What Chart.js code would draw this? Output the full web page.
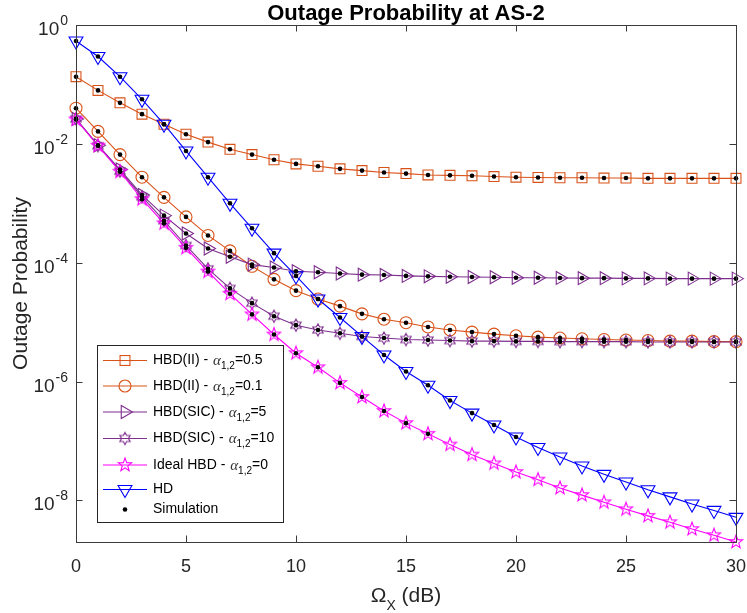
<!DOCTYPE html>
<html>
<head>
<meta charset="utf-8">
<title>Outage Probability at AS-2</title>
<script src="https://cdn.jsdelivr.net/npm/chart.js@4.4.1/dist/chart.umd.min.js"></script>
<style>
  html, body { margin: 0; padding: 0; background: #fff; }
  #wrap { width: 747px; height: 613px; position: relative; }
</style>
</head>
<body>
<div id="wrap"><canvas id="myChart"></canvas></div>
<script>
// x axis: Omega_X in dB
const snr = [0, 1, 2, 3, 4, 5, 6, 7, 8, 9, 10, 11, 12, 13, 14, 15, 16, 17, 18, 19, 20,
             21, 22, 23, 24, 25, 26, 27, 28, 29, 30];

// outage probability curves
const hbdII05 = [0.135, 0.0794, 0.049, 0.0316, 0.0214, 0.0145, 0.0107, 8.1e-3, 6.6e-3, 5.4e-3,
                 4.6e-3, 4.2e-3, 3.8e-3, 3.55e-3, 3.3e-3, 3.16e-3, 3.0e-3, 2.95e-3, 2.9e-3, 2.82e-3,
                 2.75e-3, 2.72e-3, 2.69e-3, 2.69e-3, 2.66e-3, 2.66e-3, 2.63e-3, 2.63e-3, 2.63e-3, 2.63e-3, 2.63e-3];
const hbdII01 = [0.0398, 0.0162, 6.6e-3, 2.75e-3, 1.26e-3, 5.9e-4, 2.88e-4, 1.58e-4, 8.7e-5, 5.25e-5,
                 3.39e-5, 2.45e-5, 1.86e-5, 1.38e-5, 1.12e-5, 9.8e-6, 8.3e-6, 7.4e-6, 6.8e-6, 6.3e-6,
                 5.9e-6, 5.6e-6, 5.4e-6, 5.25e-6, 5.1e-6, 5.0e-6, 4.9e-6, 4.8e-6, 4.8e-6, 4.7e-6, 4.7e-6];
const hbdSic5 = [0.0263, 9.5e-3, 3.7e-3, 1.38e-3, 6.2e-4, 3.1e-4, 1.74e-4, 1.26e-4, 9.3e-5, 8.3e-5,
                 7.2e-5, 6.9e-5, 6.6e-5, 6.3e-5, 6.2e-5, 6.0e-5, 5.9e-5, 5.8e-5, 5.75e-5, 5.7e-5,
                 5.6e-5, 5.6e-5, 5.55e-5, 5.5e-5, 5.5e-5, 5.45e-5, 5.45e-5, 5.4e-5, 5.4e-5, 5.4e-5, 5.4e-5];
const hbdSic10 = [0.0263, 9.3e-3, 3.47e-3, 1.29e-3, 5.1e-4, 1.95e-4, 7.9e-5, 3.7e-5, 2.09e-5, 1.26e-5,
                  8.9e-6, 7.4e-6, 6.5e-6, 5.75e-6, 5.4e-6, 5.1e-6, 5.0e-6, 4.9e-6, 4.8e-6, 4.8e-6,
                  4.75e-6, 4.75e-6, 4.7e-6, 4.7e-6, 4.7e-6, 4.7e-6, 4.65e-6, 4.65e-6, 4.65e-6, 4.65e-6, 4.65e-6];
const idealHbd = [0.0257, 9.3e-3, 3.4e-3, 1.17e-3, 4.6e-4, 1.78e-4, 7.1e-5, 3.0e-5, 1.35e-5, 6.2e-6,
                  3.0e-6, 1.74e-6, 9.5e-7, 5.5e-7, 3.2e-7, 2.0e-7, 1.32e-7, 8.7e-8, 5.9e-8, 4.2e-8,
                  3.0e-8, 2.24e-8, 1.62e-8, 1.23e-8, 9.3e-9, 7.1e-9, 5.5e-9, 4.3e-9, 3.3e-9, 2.6e-9, 2.0e-9];
const hd = [0.537, 0.295, 0.135, 0.0562, 0.0214, 7.6e-3, 2.75e-3, 1.0e-3, 3.8e-4, 1.45e-4,
            6.0e-5, 2.45e-5, 1.2e-5, 5.75e-6, 2.8e-6, 1.48e-6, 8.7e-7, 4.8e-7, 2.95e-7, 1.86e-7,
            1.17e-7, 7.8e-8, 5.4e-8, 3.8e-8, 2.75e-8, 2.04e-8, 1.51e-8, 1.15e-8, 8.7e-9, 6.8e-9, 5.2e-9];

// simulation points only go so far for some curves
const simLenHd = 21;     // 0..20 dB
const simLenIdeal = 17;  // 0..16 dB

const xTicks = [0, 5, 10, 15, 20, 25, 30];
const yTickExps = [0, -2, -4, -6, -8];
const yMin = 2e-9, yMax = 1;

const SANS = "'Liberation Sans', Arial, Helvetica, sans-serif";
const AXIS = '#3a3a3a';

// MATLAB style star markers as small canvases
function starMarker(points, rOut, rIn, color) {
  const s = Math.ceil(rOut * 2 + 4);
  const c = document.createElement('canvas');
  c.width = s; c.height = s;
  const g = c.getContext('2d');
  g.strokeStyle = color;
  g.lineWidth = 1.1;
  g.beginPath();
  for (let i = 0; i < points * 2; i++) {
    const r = i % 2 ? rIn : rOut;
    const a = -Math.PI / 2 + i * Math.PI / points;
    g.lineTo(s / 2 + r * Math.cos(a), s / 2 + r * Math.sin(a));
  }
  g.closePath();
  g.stroke();
  return c;
}

const pentaMag = starMarker(5, 7, 2.9, '#ff00ff');
const hexaPur = starMarker(6, 6, 3.4, '#7e2f8e');

function toXY(vals) {
  return vals.map((v, i) => ({ x: snr[i], y: v }));
}

const curves = [
  { label: 'HBD(II) - α_{1,2}=0.5', data: hbdII05, color: '#d95319', style: 'rect', r: 7, rot: 0 },
  { label: 'HBD(II) - α_{1,2}=0.1', data: hbdII01, color: '#d95319', style: 'circle', r: 6, rot: 0 },
  { label: 'HBD(SIC) - α_{1,2}=5', data: hbdSic5, color: '#7e2f8e', style: 'triangle', r: 7.5, rot: 90 },
  { label: 'HBD(SIC) - α_{1,2}=10', data: hbdSic10, color: '#7e2f8e', style: hexaPur, r: 6, rot: 0 },
  { label: 'Ideal HBD - α_{1,2}=0', data: idealHbd, color: '#ff00ff', style: pentaMag, r: 7, rot: 0 },
  { label: 'HD', data: hd, color: '#0000ff', style: 'triangle', r: 8, rot: 180 }
];

const sims = [hbdII05, hbdII01, hbdSic5, hbdSic10, idealHbd.slice(0, simLenIdeal), hd.slice(0, simLenHd)];

const datasets = curves.map((c, i) => ({
  label: c.label,
  data: toXY(c.data),
  borderColor: c.color,
  borderWidth: 1.1,
  backgroundColor: 'rgba(0,0,0,0)',
  pointStyle: c.style,
  pointRadius: c.r,
  pointRotation: c.rot,
  pointBorderColor: c.color,
  pointBackgroundColor: 'rgba(0,0,0,0)',
  pointBorderWidth: 1.1,
  tension: 0,
  clip: false,
  order: 6 - i
}));

sims.forEach((s, i) => {
  datasets.push({
    label: i === 0 ? 'Simulation' : 'sim' + i,
    data: toXY(s),
    showLine: false,
    pointStyle: 'circle',
    pointRadius: 2.3,
    pointBorderWidth: 0,
    pointBackgroundColor: '#000',
    pointBorderColor: '#000',
    clip: false,
    order: 0
  });
});

// draw text like "HBD(II) - α_{1,2}=0.5"
function drawRich(ctx, label, x, y, size) {
  const m = label.match(/^(.*)α_\{(.*?)\}(.*)$/);
  ctx.textBaseline = 'middle';
  ctx.textAlign = 'left';
  ctx.fillStyle = '#000';
  if (!m) {
    ctx.font = size + 'px ' + SANS;
    ctx.fillText(label, x, y);
    return;
  }
  ctx.font = size + 'px ' + SANS;
  ctx.fillText(m[1], x, y);
  x += ctx.measureText(m[1]).width + 1;
  ctx.font = 'italic ' + (size + 1) + "px 'Liberation Serif', 'DejaVu Serif', serif";
  ctx.fillStyle = '#333';
  ctx.fillText('α', x, y + 1);
  x += ctx.measureText('α').width;
  ctx.fillStyle = '#000';
  ctx.font = Math.round(size * 0.72) + 'px ' + SANS;
  ctx.fillText(m[2], x, y + 6);
  x += ctx.measureText(m[2]).width;
  ctx.font = size + 'px ' + SANS;
  ctx.fillText(m[3], x, y);
}

function drawMarker(ctx, c, x, y) {
  ctx.save();
  ctx.strokeStyle = c.color;
  ctx.lineWidth = 1.1;
  if (c.style instanceof HTMLCanvasElement) {
    ctx.drawImage(c.style, x - c.style.width / 2, y - c.style.height / 2);
  } else if (c.style === 'rect') {
    const h = c.r * Math.SQRT1_2;
    ctx.strokeRect(x - h, y - h, 2 * h, 2 * h);
  } else if (c.style === 'circle') {
    ctx.beginPath();
    ctx.arc(x, y, c.r, 0, Math.PI * 2);
    ctx.stroke();
  } else if (c.style === 'triangle') {
    let rad = c.rot * Math.PI / 180;
    ctx.beginPath();
    for (let k = 0; k < 3; k++) {
      ctx.lineTo(x + Math.sin(rad) * c.r, y - Math.cos(rad) * c.r);
      rad += 2 * Math.PI / 3;
    }
    ctx.closePath();
    ctx.stroke();
  }
  ctx.restore();
}

const matlabLook = {
  id: 'matlabLook',
  afterDraw(chart) {
    const ctx = chart.ctx;
    const a = chart.chartArea;
    const xs = chart.scales.x, ys = chart.scales.y;
    ctx.save();

    // axes box + inward ticks on all four sides
    ctx.strokeStyle = AXIS;
    ctx.lineWidth = 1;
    ctx.strokeRect(a.left + 0.5, a.top + 0.5, a.right - a.left, a.bottom - a.top);
    ctx.beginPath();
    xTicks.forEach(v => {
      const px = Math.round(xs.getPixelForValue(v)) + 0.5;
      ctx.moveTo(px, a.bottom); ctx.lineTo(px, a.bottom - 6.5);
      ctx.moveTo(px, a.top); ctx.lineTo(px, a.top + 6.5);
    });
    yTickExps.forEach(e => {
      const py = Math.round(ys.getPixelForValue(Math.pow(10, e))) + 0.5;
      ctx.moveTo(a.left, py); ctx.lineTo(a.left + 6.5, py);
      ctx.moveTo(a.right, py); ctx.lineTo(a.right - 6.5, py);
    });
    ctx.stroke();

    // tick labels
    ctx.fillStyle = '#262626';
    ctx.font = '18px ' + SANS;
    ctx.textAlign = 'center';
    ctx.textBaseline = 'alphabetic';
    xTicks.forEach(v => {
      ctx.fillText(String(v), xs.getPixelForValue(v), a.bottom + 30);
    });
    yTickExps.forEach(e => {
      const py = ys.getPixelForValue(Math.pow(10, e));
      const sup = e === 0 ? '0' : '-' + Math.abs(e);
      ctx.font = '14px ' + SANS;
      const ws = ctx.measureText(sup).width;
      ctx.textAlign = 'left';
      const right = a.left - 8;
      ctx.fillText(sup, right - ws, py);
      ctx.font = '19px ' + SANS;
      const wb = ctx.measureText('10').width;
      ctx.fillText('10', right - ws - wb - 1, py + 10);
    });

    // title
    ctx.fillStyle = '#000';
    ctx.textAlign = 'center';
    ctx.font = 'bold 22px ' + SANS;
    ctx.fillText('Outage Probability at AS-2', (a.left + a.right) / 2, a.top - 5);

    // y axis title
    ctx.save();
    ctx.translate(21, (a.top + a.bottom) / 2);
    ctx.rotate(-Math.PI / 2);
    ctx.font = '21px ' + SANS;
    ctx.fillStyle = '#262626';
    ctx.textBaseline = 'middle';
    ctx.fillText('Outage Probability', 0, 0);
    ctx.restore();

    // x axis title: Omega_X (dB)
    ctx.fillStyle = '#262626';
    ctx.textAlign = 'left';
    ctx.textBaseline = 'alphabetic';
    const big = '21px ' + SANS, small = '14px ' + SANS;
    ctx.font = big; const w1 = ctx.measureText('Ω').width;
    ctx.font = small; const w2 = ctx.measureText('X').width;
    ctx.font = big; const w3 = ctx.measureText(' (dB)').width;
    let tx = (a.left + a.right) / 2 - (w1 + w2 + w3) / 2;
    const ty = a.bottom + 60;
    ctx.fillText('Ω', tx, ty); tx += w1;
    ctx.font = small; ctx.fillText('X', tx, ty + 8); tx += w2;
    ctx.font = big; ctx.fillText(' (dB)', tx, ty);

    // legend
    const lx = 97, ly = 345, lw = 186, lh = 177;
    ctx.fillStyle = '#fff';
    ctx.fillRect(lx, ly, lw, lh);
    ctx.strokeStyle = '#262626';
    ctx.lineWidth = 1;
    ctx.strokeRect(lx + 0.5, ly + 0.5, lw, lh);
    const rows = [360.5, 386, 412, 438.5, 465, 489.5, 509.5];
    curves.forEach((c, i) => {
      const y = rows[i];
      ctx.strokeStyle = c.color;
      ctx.lineWidth = 1.1;
      ctx.beginPath();
      ctx.moveTo(lx + 6, y); ctx.lineTo(lx + 50, y);
      ctx.stroke();
      drawMarker(ctx, c, lx + 28, y);
      drawRich(ctx, c.label, lx + 56, y, 14);
    });
    ctx.fillStyle = '#000';
    ctx.beginPath();
    ctx.arc(lx + 28, rows[6], 2.3, 0, Math.PI * 2);
    ctx.fill();
    drawRich(ctx, 'Simulation', lx + 56, rows[6], 14);

    ctx.restore();
  }
};

const ctx = document.getElementById('myChart');

new Chart(ctx, {
  type: 'line',
  data: { datasets: datasets },
  options: {
    responsive: true,
    maintainAspectRatio: false,
    animation: false,
    events: [],
    layout: { padding: { top: 25, right: 11, left: 0, bottom: 0 } },
    plugins: {
      legend: { display: false },
      tooltip: { enabled: false },
      title: { display: false }
    },
    scales: {
      x: {
        type: 'linear',
        min: 0,
        max: 30,
        grid: { display: false },
        border: { display: false },
        ticks: { display: false },
        afterFit(scale) { scale.height = 71; }
      },
      y: {
        type: 'logarithmic',
        min: yMin,
        max: yMax,
        grid: { display: false },
        border: { display: false },
        ticks: { display: false },
        afterFit(scale) { scale.width = 76; }
      }
    }
  },
  plugins: [matlabLook]
});
</script>
</body>
</html>
